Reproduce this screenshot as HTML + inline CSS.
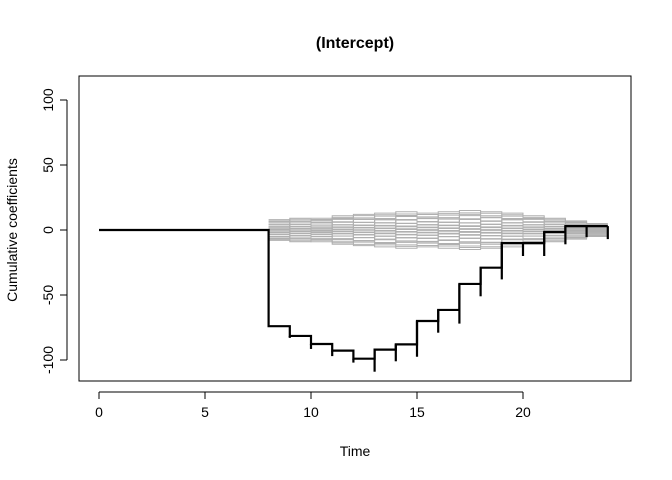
<!DOCTYPE html>
<html><head><meta charset="utf-8"><style>
html,body{margin:0;padding:0;background:#fff;}
svg{display:block;font-family:"Liberation Sans",Arial,sans-serif;}
</style></head><body>
<svg id="chart" width="672" height="480" viewBox="0 0 672 480">
<text x="355" y="48" text-anchor="middle" font-size="16" font-weight="bold">(Intercept)</text>
<text x="355" y="456" text-anchor="middle" font-size="14">Time</text>
<text x="0" y="0" transform="translate(17,230) rotate(-90)" text-anchor="middle" font-size="14">Cumulative coefficients</text>
<rect x="79" y="76" width="552" height="305" fill="none" stroke="#000" stroke-width="1"/>
<g id="sims"></g>
<g id="main"></g>
<g id="xaxis"></g>
<g id="yaxis"></g>
</svg>
<script>
const xTicks=[0,5,10,15,20];
const yTicks=[-100,-50,0,50,100];
const times=[8,9,10,11,12,13,14,15,16,17,18,19,20,21,22,23,24];
const levels=[-74,-81.5,-87.7,-92.8,-99,-92,-88,-70,-61.5,-41.5,-29,-10,-10,-1.5,3,3,3];
const tickLows=[-74,-83,-91.5,-97,-102,-109,-101,-97.5,-79,-72,-51,-38,-20,-20,-11,-5.5,-7];
const simSpread=[8,9,9,11,12,13,14,13,14,15,14,13,11,9,7,5];
const simRanks=[-1,-0.9,-0.8,-0.7,-0.62,-0.55,-0.48,-0.42,-0.36,-0.3,-0.25,-0.2,-0.15,-0.1,-0.05,0,0.05,0.1,0.15,0.2,0.25,0.3,0.36,0.42,0.48,0.55,0.62,0.7,0.8,0.9,1];
const X=t=>99+21.2*t, Y=v=>230-1.3*v;
const NS="http://www.w3.org/2000/svg";
function mk(tag,attrs,parent){const e=document.createElementNS(NS,tag);for(const k in attrs)e.setAttribute(k,attrs[k]);parent.appendChild(e);return e;}
const xa=document.getElementById('xaxis'),ya=document.getElementById('yaxis');
let l=mk('line',{x1:X(xTicks[0]),x2:X(xTicks[xTicks.length-1]),y1:392,y2:392,stroke:'#000'},xa);


xTicks.forEach(t=>{
 const tk=mk('line',{x1:X(t),x2:X(t),y1:392,y2:399,stroke:'#000'},xa);
 
 
 const tx=mk('text',{x:X(t),y:417,'text-anchor':'middle','font-size':14},xa);tx.textContent=t;
 
 
});
l=mk('line',{x1:67,x2:67,y1:Y(yTicks[0]),y2:Y(yTicks[yTicks.length-1]),stroke:'#000'},ya);


yTicks.forEach(v=>{
 const tk=mk('line',{x1:60,x2:67,y1:Y(v),y2:Y(v),stroke:'#000'},ya);
 
 
 const tx=mk('text',{x:0,y:0,transform:`translate(53,${Y(v)}) rotate(-90)`,'text-anchor':'middle','font-size':14},ya);tx.textContent=v;
 
 
});
const sims=document.getElementById('sims');
simRanks.forEach((r,j)=>{
 let d='';
 for(let i=0;i<simSpread.length;i++){
  const alt=((i+j)%3-1)*0.12;
  const v=simSpread[i]*Math.max(-1,Math.min(1,r+alt));
  d+=(i?'L':'M')+X(times[i])+','+Y(v)+'H'+X(times[i+1]);
 }
 const p=mk('path',{d:d,fill:'none',stroke:'#b0b0b0','stroke-width':1},sims);
 
 
});
const main=document.getElementById('main');
let d='M'+X(0)+','+Y(0)+'H'+X(times[0]);
for(let i=0;i<times.length;i++){
 d+='V'+Y(levels[i]);
 if(i<times.length-1)d+='H'+X(times[i+1]);
}
const mp=mk('path',{d:d,fill:'none',stroke:'#000','stroke-width':2.2},main);


times.forEach((t,i)=>{
 const tk=mk('line',{x1:X(t),x2:X(t),y1:Y(levels[i]),y2:Y(tickLows[i]),stroke:'#000','stroke-width':2.2},main);
 
 
});
</script>
</body></html>
